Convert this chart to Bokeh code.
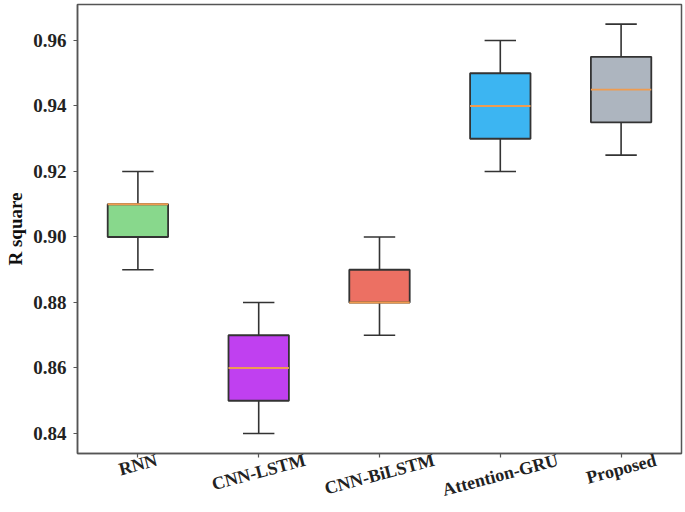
import math
from bokeh.plotting import figure
from bokeh.models import (ColumnDataSource, Range1d, NumeralTickFormatter,
                          LinearAxis, FixedTicker, CustomJSTickFormatter)
from bokeh.embed import file_html
from bokeh.resources import INLINE

models = ["RNN", "CNN-LSTM", "CNN-BiLSTM", "Attention-GRU", "Proposed"]
whisker_low = [0.89, 0.84, 0.87, 0.92, 0.925]
q1 = [0.90, 0.85, 0.88, 0.93, 0.935]
median = [0.91, 0.86, 0.88, 0.94, 0.945]
q3 = [0.91, 0.87, 0.89, 0.95, 0.955]
whisker_high = [0.92, 0.88, 0.90, 0.96, 0.965]
colors = ["#88d88c", "#c040f0", "#ec7063", "#3cb5f2", "#adb5bf"]
y_ticks = [0.84, 0.86, 0.88, 0.90, 0.92, 0.94, 0.96]

Y0, Y1 = 0.83389, 0.97099

# category centres on a numeric axis (one unit per category)
xc = [i + 0.5 for i in range(len(models))]
cap_half, med_half = 0.13, 0.25

src = ColumnDataSource(dict(
    x=xc, lo=whisker_low, q1=q1, med=median, q3=q3, hi=whisker_high, color=colors,
    cap_l=[x - cap_half for x in xc], cap_r=[x + cap_half for x in xc],
    med_l=[x - med_half for x in xc], med_r=[x + med_half for x in xc]))

p = figure(width=685, height=512, x_range=Range1d(0, len(models)),
           y_range=Range1d(Y0, Y1), output_backend="svg",
           toolbar_location=None, min_border_left=77, min_border_right=4,
           min_border_top=4, min_border_bottom=59)

edge = "#333333"
# whisker stems
p.segment(x0="x", y0="q3", x1="x", y1="hi", source=src, line_color=edge, line_width=1.6)
p.segment(x0="x", y0="lo", x1="x", y1="q1", source=src, line_color=edge, line_width=1.6)
# caps
p.segment(x0="cap_l", y0="hi", x1="cap_r", y1="hi", source=src, line_color=edge, line_width=1.6)
p.segment(x0="cap_l", y0="lo", x1="cap_r", y1="lo", source=src, line_color=edge, line_width=1.6)
# boxes
p.vbar(x="x", bottom="q1", top="q3", width=0.5, source=src,
       fill_color="color", line_color=edge, line_width=1.8)
# medians
p.segment(x0="med_l", y0="med", x1="med_r", y1="med", source=src,
          line_color="#ef9c50", line_width=1.8)

p.xgrid.visible = False
p.ygrid.visible = False
p.outline_line_color = "#555555"
p.outline_line_width = 1.5

p.yaxis.ticker = y_ticks
p.yaxis.formatter = NumeralTickFormatter(format="0.00")
p.yaxis.axis_label = "R square"
p.yaxis.axis_label_text_font = "Liberation Serif"
p.yaxis.axis_label_text_font_style = "bold"
p.yaxis.axis_label_text_font_size = "19px"
p.yaxis.axis_label_text_color = "#111111"
p.yaxis.axis_label_standoff = 4

p.xaxis.ticker = FixedTicker(ticks=xc)

for ax in (p.xaxis, p.yaxis):
    ax.major_label_text_font = "Liberation Serif"
    ax.major_label_text_font_style = "bold"
    ax.major_label_text_color = "#222222"
    ax.axis_line_color = "#555555"
    ax.axis_line_width = 1.5
    ax.major_tick_line_color = "#555555"
    ax.major_tick_line_width = 1.2
    ax.major_tick_out = 4
    ax.major_tick_in = 0
    ax.minor_tick_line_color = None

p.yaxis.major_label_text_font_size = "19px"
p.yaxis.major_label_standoff = 7

# tick axis: ticks only (names drawn by the label axis below, centred under ticks)
p.xaxis.major_label_text_font_size = "2px"
p.xaxis.major_label_text_color = None
p.xaxis.major_label_standoff = 0

fs = 18
ang = math.radians(15)
label_em = [2.17, 5.33, 6.28, 6.61, 4.0]  # approximate text widths in em (layout helper)
px_per_cat = (685 - 77 - 4) / len(models)
shifts = [round(w * fs * math.cos(ang) / 2 / px_per_cat, 4) for w in label_em]
lab_axis = LinearAxis(ticker=FixedTicker(ticks=[x + s for x, s in zip(xc, shifts)]),
                      formatter=CustomJSTickFormatter(args=dict(names=models),
                                                      code="return names[Math.floor(tick)];"))
lab_axis.axis_line_color = None
lab_axis.major_tick_line_color = None
lab_axis.minor_tick_line_color = None
lab_axis.major_tick_out = 0
lab_axis.major_tick_in = 0
lab_axis.major_label_standoff = 2
lab_axis.major_label_orientation = ang
lab_axis.major_label_text_font = "Liberation Serif"
lab_axis.major_label_text_font_style = "bold"
lab_axis.major_label_text_font_size = f"{fs}px"
lab_axis.major_label_text_color = "#222222"
p.add_layout(lab_axis, "below")

open("out.html", "w").write(file_html(p, INLINE))
